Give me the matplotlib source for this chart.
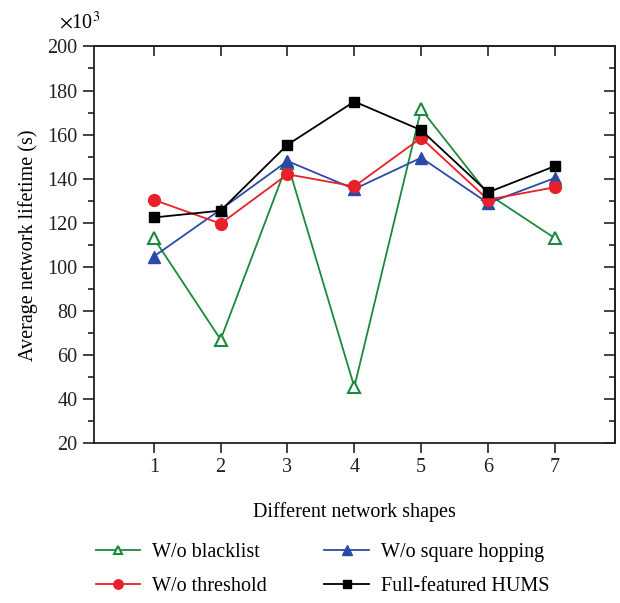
import matplotlib
matplotlib.use("Agg")
import matplotlib.pyplot as plt
from matplotlib.ticker import MultipleLocator

plt.rcParams['font.family'] = ['Liberation Serif', 'DejaVu Serif']
plt.rcParams['mathtext.fontset'] = 'stix'

shapes = [1, 2, 3, 4, 5, 6, 7]
blacklist = [113, 67, 147, 45.5, 171.5, 133, 113]
square_hopping = [104.7, 126, 148, 135.3, 149.5, 128.9, 140.3]
threshold = [130.4, 119.6, 142, 136.5, 158.5, 130.5, 136.1]
full_hums = [122.4, 125.5, 155.4, 175, 162, 133.8, 145.7]

fig = plt.figure(figsize=(6.2, 6.03), dpi=100)
ax = fig.add_axes([0.151, 0.265, 0.841, 0.658])

l1, = ax.plot(shapes, blacklist, color='#1a8a3c', lw=1.3, marker='^', ms=8,
              mfc='white', mec='#1a8a3c', mew=1.5, label='W/o blacklist')
l3, = ax.plot(shapes, square_hopping, color='#2b4aa8', lw=1.3, marker='^', ms=9,
              label='W/o square hopping')
l2, = ax.plot(shapes, threshold, color='#e8202a', lw=1.3, marker='o', ms=8.5,
              label='W/o threshold')
l4, = ax.plot(shapes, full_hums, color='black', lw=1.3, marker='s', ms=7,
              label='Full-featured HUMS')

ax.set_xlim(0.1, 7.9)
ax.set_ylim(20, 200)
ax.set_xticks(shapes)
ax.yaxis.set_major_locator(MultipleLocator(20))
ax.yaxis.set_minor_locator(MultipleLocator(10))
ax.tick_params(axis='both', which='both', labelsize=14.5, colors='#222222')
ax.tick_params(axis='y', which='major', direction='out', length=8, width=1.2)
ax.tick_params(axis='y', which='minor', direction='out', length=4, width=1.2)
ax.tick_params(axis='x', which='major', direction='out', length=7, width=1.2)

# inward ticks on top and right
ry = ax.secondary_yaxis('right')
ry.yaxis.set_major_locator(MultipleLocator(20))
ry.yaxis.set_minor_locator(MultipleLocator(10))
ry.tick_params(which='major', direction='in', length=8, width=1.2,
               labelright=False, colors='#222222')
ry.tick_params(which='minor', direction='in', length=4, width=1.2,
               colors='#222222')
tx = ax.secondary_xaxis('top')
tx.set_xticks(shapes)
tx.tick_params(direction='in', length=7, width=1.2, labeltop=False,
               colors='#222222')
for a in (ax, ry, tx):
    for s in a.spines.values():
        s.set_linewidth(1.3)
        s.set_color('#222222')

ax.set_xlabel('Different network shapes', fontsize=14.5, labelpad=18)
ax.set_ylabel('Average network lifetime (s)', fontsize=14.5, labelpad=7)
fig.text(0.095, 0.963, r'$\times$10$^3$', fontsize=14.5, ha='left', va='center')

fig.legend(handles=[l1, l2, l3, l4], ncol=2, loc='upper left',
           bbox_to_anchor=(0.1255, 0.130), frameon=False, fontsize=14.5,
           handlelength=2.2, handletextpad=0.6, columnspacing=2.85,
           labelspacing=0.75, markerscale=0.8)

fig.savefig('out.png', dpi=100)
